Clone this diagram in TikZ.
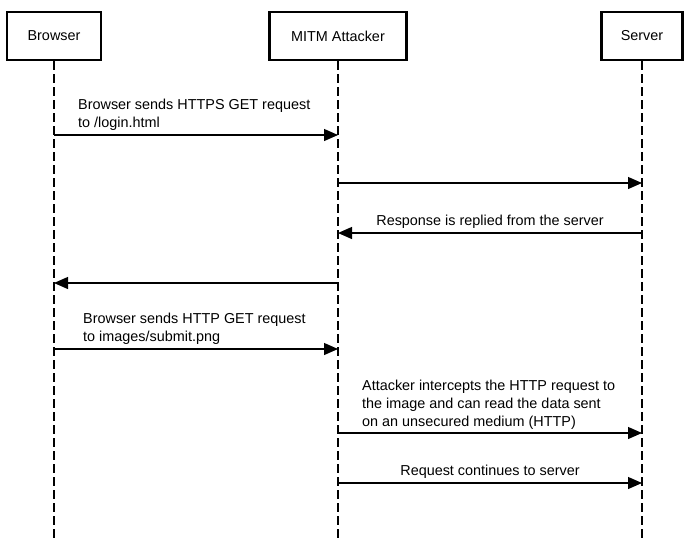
\documentclass[tikz,border=0pt]{standalone}
\usepackage{fontspec}
\setmainfont{Liberation Sans}
\usetikzlibrary{arrows.meta}
\definecolor{bg}{HTML}{FFFFFF}
\definecolor{ink}{HTML}{000000}

\begin{document}
\begin{tikzpicture}[x=1pt,y=-1pt,font=\fontsize{14.4}{18}\selectfont,
  actor/.style={draw=ink,line width=2.4pt,fill=bg,inner sep=0pt,minimum height=48pt,text=ink},
  life/.style={draw=ink,line width=1.2pt,dash pattern=on 9pt off 4pt},
  msg/.style={-{Triangle[length=14pt,width=12pt]},line width=1.2pt,ink},
  lbl/.style={text=ink,inner sep=0pt,align=left}]
  \fill[bg] (0,0) rectangle (691,544);
  \useasboundingbox (0,0) rectangle (691,544);

  % ===== actors =====
  \node[actor,minimum width=94pt] (browser) at (54,36) {Browser};
  \node[actor,minimum width=137pt] (mitm) at (338,36) {MITM Attacker};
  \node[actor,minimum width=81pt] (server) at (642,36) {Server};

  % ===== lifelines =====
  \coordinate (bottom) at (0,541);
  \draw[life] (browser.south) -- (browser |- bottom);
  \draw[life] (mitm.south) -- (mitm |- bottom);
  \draw[life] (server.south) -- (server |- bottom);

  % ===== message rows =====
  \coordinate (m1) at (0,135);
  \coordinate (m2) at (0,183);
  \coordinate (m3) at (0,233);
  \coordinate (m4) at (0,283);
  \coordinate (m5) at (0,349);
  \coordinate (m6) at (0,433);
  \coordinate (m7) at (0,483);

  % HTTPS request
  \draw[msg] (browser |- m1) -- (mitm |- m1);
  \node[lbl,anchor=south west] (t1) at (78,131) {Browser sends HTTPS GET request\\to /login.html};
  \draw[msg] (mitm |- m2) -- (server |- m2);
  % response back
  \draw[msg] (server |- m3) -- (mitm |- m3);
  \node[lbl,anchor=south] (t3) at (490,229) {Response is replied from the server};
  \draw[msg] (mitm |- m4) -- (browser |- m4);

  % HTTP request for the image
  \draw[msg] (browser |- m5) -- (mitm |- m5);
  \node[lbl,anchor=south west] (t5) at (83,345) {Browser sends HTTP GET request\\to images/submit.png};
  \draw[msg] (mitm |- m6) -- (server |- m6);
  \node[lbl,anchor=south west] (t6) at (362,430) {Attacker intercepts the HTTP request to\\the image and can read the data sent\\on an unsecured medium (HTTP)};
  \draw[msg] (mitm |- m7) -- (server |- m7);
  \node[lbl,anchor=south] (t7) at (490,479) {Request continues to server};
\end{tikzpicture}
\end{document}
